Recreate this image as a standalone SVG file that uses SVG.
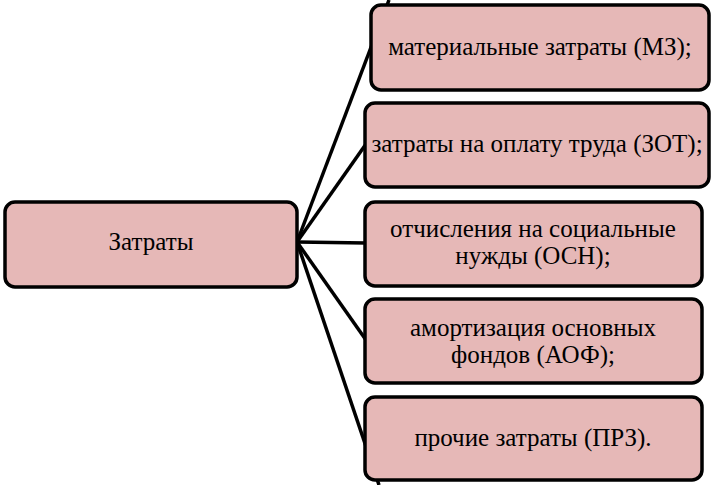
<svg xmlns="http://www.w3.org/2000/svg" width="717" height="485" viewBox="0 0 717 485">
<style>
.box{fill:#E6B8B7;stroke:#000;stroke-width:3.5}
.lbl{font-family:'Liberation Serif','Times New Roman',serif;font-size:25px;fill:#000;text-anchor:middle}
.conn{stroke:#000;stroke-width:3.5;fill:none}
</style>
<rect width="717" height="485" fill="#fff"/>
<g id="connectors">
<line class="conn" x1="297" y1="242" x2="389" y2="0"/>
<line class="conn" x1="297" y1="242" x2="366" y2="144"/>
<line class="conn" x1="297" y1="242" x2="366" y2="243"/>
<line class="conn" x1="297" y1="242" x2="366" y2="340"/>
<line class="conn" x1="297" y1="242" x2="379" y2="485"/>
</g>
<g id="n0">
<rect class="box" x="5" y="202" width="292" height="85" rx="10"/>
<text class="lbl" x="151" y="250">Затраты</text>
</g>
<g id="n1">
<rect class="box" x="371" y="5" width="338" height="85" rx="10"/>
<text class="lbl" x="540" y="55">материальные затраты (МЗ);</text>
</g>
<g id="n2">
<rect class="box" x="365" y="103" width="344" height="84" rx="10"/>
<text class="lbl" x="537" y="152">затраты на оплату труда (ЗОТ);</text>
</g>
<g id="n3">
<rect class="box" x="365" y="202" width="337" height="84" rx="10"/>
<text class="lbl" x="533" y="237">отчисления на социальные</text>
<text class="lbl" x="533" y="264">нужды (ОСН);</text>
</g>
<g id="n4">
<rect class="box" x="365" y="299" width="337" height="84" rx="10"/>
<text class="lbl" x="533" y="336">амортизация основных</text>
<text class="lbl" x="533" y="363">фондов (АОФ);</text>
</g>
<g id="n5">
<rect class="box" x="365" y="397" width="337" height="83" rx="10"/>
<text class="lbl" x="533" y="446">прочие затраты (ПРЗ).</text>
</g>
</svg>
